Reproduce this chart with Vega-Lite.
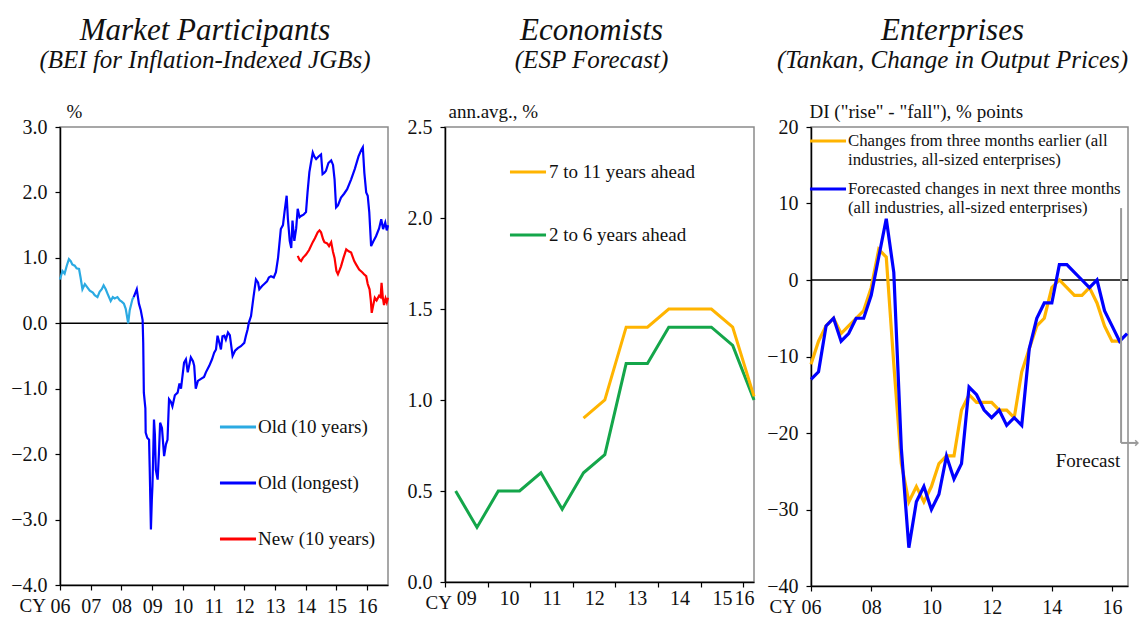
{
  "$schema": "https://vega.github.io/schema/vega-lite/v6.json",
  "background": "white",
  "padding": {"left": 9, "top": 14, "right": 0, "bottom": 0},
  "bounds": "flush",
  "spacing": 57,
  "resolve": {"scale": {"color": "independent"}, "legend": {"color": "independent"}},
  "config": {
    "font": "Liberation Serif",
    "view": {"stroke": "#8a8a8a", "strokeWidth": 1.5},
    "axis": {"domainColor": "#000", "domainWidth": 1.5, "tickColor": "#000", "tickSize": 5, "tickWidth": 1.2, "labelFont": "Liberation Serif", "labelFontSize": 20, "labelColor": "#111", "titleFont": "Liberation Serif", "titleFontSize": 19, "titleFontWeight": "normal", "titleColor": "#111", "grid": false, "labelFlush": false, "labelOverlap": false},
    "legend": {"labelFont": "Liberation Serif", "labelFontSize": 19, "labelColor": "#111", "symbolType": "stroke", "symbolStrokeWidth": 3, "symbolSize": 1300, "labelLimit": 400},
    "title": {"font": "Liberation Serif", "fontSize": 31, "fontStyle": "italic", "fontWeight": "normal", "color": "#111", "subtitleFont": "Liberation Serif", "subtitleFontSize": 25, "subtitleFontStyle": "italic", "subtitleColor": "#111", "anchor": "middle", "offset": 28, "subtitlePadding": 1}
  },
  "hconcat": [
    {
      "width": 328,
      "height": 458,
      "title": {"text": "Market Participants", "subtitle": "(BEI for Inflation-Indexed JGBs)", "dx": -19},
      "layer": [
        {
          "data": {"values": [{"z": 0}]},
          "mark": {"type": "rule", "color": "#000", "strokeWidth": 1.5},
          "encoding": {"y": {"field": "z", "type": "quantitative"}}
        },
        {
          "data": {"values": [
            {"s":"Old (10 years)","t":2006.00,"v":0.67},{"s":"Old (10 years)","t":2006.08,"v":0.80},{"s":"Old (10 years)","t":2006.15,"v":0.76},{"s":"Old (10 years)","t":2006.22,"v":0.88},{"s":"Old (10 years)","t":2006.29,"v":0.98},{"s":"Old (10 years)","t":2006.35,"v":0.95},{"s":"Old (10 years)","t":2006.40,"v":0.90},{"s":"Old (10 years)","t":2006.48,"v":0.88},{"s":"Old (10 years)","t":2006.54,"v":0.84},{"s":"Old (10 years)","t":2006.62,"v":0.83},{"s":"Old (10 years)","t":2006.67,"v":0.70},{"s":"Old (10 years)","t":2006.73,"v":0.52},{"s":"Old (10 years)","t":2006.81,"v":0.60},{"s":"Old (10 years)","t":2006.89,"v":0.55},{"s":"Old (10 years)","t":2006.97,"v":0.50},{"s":"Old (10 years)","t":2007.07,"v":0.47},{"s":"Old (10 years)","t":2007.13,"v":0.43},{"s":"Old (10 years)","t":2007.22,"v":0.40},{"s":"Old (10 years)","t":2007.29,"v":0.48},{"s":"Old (10 years)","t":2007.36,"v":0.52},{"s":"Old (10 years)","t":2007.42,"v":0.58},{"s":"Old (10 years)","t":2007.49,"v":0.52},{"s":"Old (10 years)","t":2007.55,"v":0.45},{"s":"Old (10 years)","t":2007.65,"v":0.34},{"s":"Old (10 years)","t":2007.72,"v":0.40},{"s":"Old (10 years)","t":2007.78,"v":0.38},{"s":"Old (10 years)","t":2007.87,"v":0.40},{"s":"Old (10 years)","t":2007.95,"v":0.35},{"s":"Old (10 years)","t":2008.01,"v":0.33},{"s":"Old (10 years)","t":2008.08,"v":0.30},{"s":"Old (10 years)","t":2008.14,"v":0.22},{"s":"Old (10 years)","t":2008.22,"v":0.00},{"s":"Old (10 years)","t":2008.27,"v":0.20},{"s":"Old (10 years)","t":2008.36,"v":0.37},{"s":"Old (10 years)","t":2008.40,"v":0.40},
            {"s":"Old (longest)","t":2008.40,"v":0.40},{"s":"Old (longest)","t":2008.50,"v":0.52},{"s":"Old (longest)","t":2008.57,"v":0.30},{"s":"Old (longest)","t":2008.63,"v":0.20},{"s":"Old (longest)","t":2008.69,"v":0.05},{"s":"Old (longest)","t":2008.71,"v":-0.30},{"s":"Old (longest)","t":2008.73,"v":-1.06},{"s":"Old (longest)","t":2008.78,"v":-1.30},{"s":"Old (longest)","t":2008.79,"v":-1.67},{"s":"Old (longest)","t":2008.84,"v":-1.75},{"s":"Old (longest)","t":2008.90,"v":-1.78},{"s":"Old (longest)","t":2008.92,"v":-2.20},{"s":"Old (longest)","t":2008.96,"v":-3.15},{"s":"Old (longest)","t":2008.99,"v":-2.70},{"s":"Old (longest)","t":2009.01,"v":-2.49},{"s":"Old (longest)","t":2009.04,"v":-1.90},{"s":"Old (longest)","t":2009.06,"v":-1.47},{"s":"Old (longest)","t":2009.09,"v":-1.70},{"s":"Old (longest)","t":2009.12,"v":-2.24},{"s":"Old (longest)","t":2009.18,"v":-2.39},{"s":"Old (longest)","t":2009.22,"v":-2.00},{"s":"Old (longest)","t":2009.26,"v":-1.52},{"s":"Old (longest)","t":2009.32,"v":-1.60},{"s":"Old (longest)","t":2009.39,"v":-2.03},{"s":"Old (longest)","t":2009.45,"v":-1.85},{"s":"Old (longest)","t":2009.50,"v":-1.78},{"s":"Old (longest)","t":2009.55,"v":-1.16},{"s":"Old (longest)","t":2009.61,"v":-1.20},{"s":"Old (longest)","t":2009.66,"v":-1.27},{"s":"Old (longest)","t":2009.74,"v":-1.10},{"s":"Old (longest)","t":2009.83,"v":-1.06},{"s":"Old (longest)","t":2009.89,"v":-0.92},{"s":"Old (longest)","t":2009.94,"v":-1.00},{"s":"Old (longest)","t":2010.04,"v":-0.60},{"s":"Old (longest)","t":2010.10,"v":-0.55},{"s":"Old (longest)","t":2010.16,"v":-0.75},{"s":"Old (longest)","t":2010.26,"v":-0.52},{"s":"Old (longest)","t":2010.33,"v":-0.58},{"s":"Old (longest)","t":2010.37,"v":-0.65},{"s":"Old (longest)","t":2010.42,"v":-1.00},{"s":"Old (longest)","t":2010.49,"v":-0.88},{"s":"Old (longest)","t":2010.59,"v":-0.85},{"s":"Old (longest)","t":2010.69,"v":-0.82},{"s":"Old (longest)","t":2010.75,"v":-0.75},{"s":"Old (longest)","t":2010.86,"v":-0.65},{"s":"Old (longest)","t":2010.95,"v":-0.55},{"s":"Old (longest)","t":2011.02,"v":-0.45},{"s":"Old (longest)","t":2011.08,"v":-0.40},{"s":"Old (longest)","t":2011.13,"v":-0.19},{"s":"Old (longest)","t":2011.19,"v":-0.30},{"s":"Old (longest)","t":2011.24,"v":-0.40},{"s":"Old (longest)","t":2011.29,"v":-0.20},{"s":"Old (longest)","t":2011.35,"v":-0.19},{"s":"Old (longest)","t":2011.40,"v":-0.25},{"s":"Old (longest)","t":2011.47,"v":-0.14},{"s":"Old (longest)","t":2011.53,"v":-0.18},{"s":"Old (longest)","t":2011.62,"v":-0.50},{"s":"Old (longest)","t":2011.70,"v":-0.42},{"s":"Old (longest)","t":2011.79,"v":-0.38},{"s":"Old (longest)","t":2011.89,"v":-0.35},{"s":"Old (longest)","t":2012.00,"v":-0.30},{"s":"Old (longest)","t":2012.05,"v":-0.20},{"s":"Old (longest)","t":2012.11,"v":-0.09},{"s":"Old (longest)","t":2012.15,"v":0.01},{"s":"Old (longest)","t":2012.22,"v":0.11},{"s":"Old (longest)","t":2012.30,"v":0.40},{"s":"Old (longest)","t":2012.38,"v":0.67},{"s":"Old (longest)","t":2012.45,"v":0.62},{"s":"Old (longest)","t":2012.49,"v":0.52},{"s":"Old (longest)","t":2012.58,"v":0.57},{"s":"Old (longest)","t":2012.65,"v":0.60},{"s":"Old (longest)","t":2012.74,"v":0.64},{"s":"Old (longest)","t":2012.80,"v":0.70},{"s":"Old (longest)","t":2012.87,"v":0.72},{"s":"Old (longest)","t":2012.96,"v":0.70},{"s":"Old (longest)","t":2013.03,"v":0.78},{"s":"Old (longest)","t":2013.10,"v":1.00},{"s":"Old (longest)","t":2013.19,"v":1.44},{"s":"Old (longest)","t":2013.26,"v":1.50},{"s":"Old (longest)","t":2013.31,"v":1.70},{"s":"Old (longest)","t":2013.38,"v":1.95},{"s":"Old (longest)","t":2013.42,"v":1.60},{"s":"Old (longest)","t":2013.48,"v":1.26},{"s":"Old (longest)","t":2013.53,"v":1.15},{"s":"Old (longest)","t":2013.57,"v":1.57},{"s":"Old (longest)","t":2013.63,"v":1.26},{"s":"Old (longest)","t":2013.69,"v":1.45},{"s":"Old (longest)","t":2013.74,"v":1.75},{"s":"Old (longest)","t":2013.80,"v":1.62},{"s":"Old (longest)","t":2013.85,"v":1.64},{"s":"Old (longest)","t":2013.93,"v":1.66},{"s":"Old (longest)","t":2014.01,"v":1.70},{"s":"Old (longest)","t":2014.06,"v":2.00},{"s":"Old (longest)","t":2014.12,"v":2.31},{"s":"Old (longest)","t":2014.17,"v":2.45},{"s":"Old (longest)","t":2014.23,"v":2.61},{"s":"Old (longest)","t":2014.28,"v":2.55},{"s":"Old (longest)","t":2014.34,"v":2.51},{"s":"Old (longest)","t":2014.42,"v":2.55},{"s":"Old (longest)","t":2014.50,"v":2.58},{"s":"Old (longest)","t":2014.55,"v":2.28},{"s":"Old (longest)","t":2014.61,"v":2.30},{"s":"Old (longest)","t":2014.66,"v":2.33},{"s":"Old (longest)","t":2014.74,"v":2.45},{"s":"Old (longest)","t":2014.83,"v":2.49},{"s":"Old (longest)","t":2014.89,"v":2.42},{"s":"Old (longest)","t":2014.94,"v":2.20},{"s":"Old (longest)","t":2014.99,"v":1.77},{"s":"Old (longest)","t":2015.05,"v":1.80},{"s":"Old (longest)","t":2015.15,"v":1.92},{"s":"Old (longest)","t":2015.25,"v":1.98},{"s":"Old (longest)","t":2015.35,"v":2.05},{"s":"Old (longest)","t":2015.48,"v":2.20},{"s":"Old (longest)","t":2015.60,"v":2.36},{"s":"Old (longest)","t":2015.72,"v":2.55},{"s":"Old (longest)","t":2015.81,"v":2.65},{"s":"Old (longest)","t":2015.86,"v":2.69},{"s":"Old (longest)","t":2015.91,"v":2.30},{"s":"Old (longest)","t":2015.97,"v":2.00},{"s":"Old (longest)","t":2016.02,"v":1.95},{"s":"Old (longest)","t":2016.07,"v":1.70},{"s":"Old (longest)","t":2016.13,"v":1.18},{"s":"Old (longest)","t":2016.20,"v":1.25},{"s":"Old (longest)","t":2016.29,"v":1.33},{"s":"Old (longest)","t":2016.39,"v":1.45},{"s":"Old (longest)","t":2016.46,"v":1.59},{"s":"Old (longest)","t":2016.52,"v":1.44},{"s":"Old (longest)","t":2016.59,"v":1.54},{"s":"Old (longest)","t":2016.64,"v":1.42},{"s":"Old (longest)","t":2016.68,"v":1.50},
            {"s":"New (10 years)","t":2013.74,"v":1.03},{"s":"New (10 years)","t":2013.80,"v":0.97},{"s":"New (10 years)","t":2013.85,"v":0.95},{"s":"New (10 years)","t":2013.91,"v":1.00},{"s":"New (10 years)","t":2014.01,"v":1.05},{"s":"New (10 years)","t":2014.11,"v":1.12},{"s":"New (10 years)","t":2014.23,"v":1.24},{"s":"New (10 years)","t":2014.30,"v":1.30},{"s":"New (10 years)","t":2014.39,"v":1.39},{"s":"New (10 years)","t":2014.45,"v":1.42},{"s":"New (10 years)","t":2014.50,"v":1.39},{"s":"New (10 years)","t":2014.57,"v":1.28},{"s":"New (10 years)","t":2014.61,"v":1.24},{"s":"New (10 years)","t":2014.70,"v":1.22},{"s":"New (10 years)","t":2014.76,"v":1.18},{"s":"New (10 years)","t":2014.83,"v":1.24},{"s":"New (10 years)","t":2014.89,"v":1.09},{"s":"New (10 years)","t":2014.94,"v":1.00},{"s":"New (10 years)","t":2015.00,"v":0.80},{"s":"New (10 years)","t":2015.05,"v":0.75},{"s":"New (10 years)","t":2015.11,"v":0.82},{"s":"New (10 years)","t":2015.15,"v":0.87},{"s":"New (10 years)","t":2015.23,"v":1.00},{"s":"New (10 years)","t":2015.32,"v":1.13},{"s":"New (10 years)","t":2015.40,"v":1.10},{"s":"New (10 years)","t":2015.48,"v":1.08},{"s":"New (10 years)","t":2015.58,"v":0.95},{"s":"New (10 years)","t":2015.64,"v":0.90},{"s":"New (10 years)","t":2015.74,"v":0.82},{"s":"New (10 years)","t":2015.84,"v":0.78},{"s":"New (10 years)","t":2015.90,"v":0.75},{"s":"New (10 years)","t":2015.97,"v":0.72},{"s":"New (10 years)","t":2016.02,"v":0.60},{"s":"New (10 years)","t":2016.08,"v":0.52},{"s":"New (10 years)","t":2016.12,"v":0.35},{"s":"New (10 years)","t":2016.15,"v":0.16},{"s":"New (10 years)","t":2016.20,"v":0.28},{"s":"New (10 years)","t":2016.25,"v":0.39},{"s":"New (10 years)","t":2016.31,"v":0.35},{"s":"New (10 years)","t":2016.39,"v":0.42},{"s":"New (10 years)","t":2016.44,"v":0.40},{"s":"New (10 years)","t":2016.47,"v":0.62},{"s":"New (10 years)","t":2016.51,"v":0.40},{"s":"New (10 years)","t":2016.55,"v":0.28},{"s":"New (10 years)","t":2016.60,"v":0.38},{"s":"New (10 years)","t":2016.64,"v":0.32},{"s":"New (10 years)","t":2016.68,"v":0.39}
          ]},
          "mark": {"type": "line", "strokeWidth": 2.2},
          "encoding": {
            "x": {"field": "t", "type": "quantitative", "scale": {"domain": [2006, 2016.68], "nice": false, "zero": false},
              "axis": {"values": [2006,2007,2008,2009,2010,2011,2012,2013,2014,2015,2016], "labelExpr": "substring(toString(datum.value),2,4)", "labelPadding": 6, "title": "CY", "titleAngle": 0, "titleAlign": "left", "titleBaseline": "top", "titleX": -41, "titleY": 11}},
            "y": {"field": "v", "type": "quantitative", "scale": {"domain": [-4, 3], "nice": false},
              "axis": {"values": [-4,-3,-2,-1,0,1,2,3], "format": ".1f", "labelPadding": 8, "title": "%", "titleAngle": 0, "titleAlign": "left", "titleBaseline": "alphabetic", "titleX": 6, "titleY": -10}},
            "color": {"field": "s", "type": "nominal", "scale": {"domain": ["Old (10 years)", "Old (longest)", "New (10 years)"], "range": ["#2BAAE2", "#0000FF", "#FF0000"]},
              "legend": {"title": null, "orient": "none", "legendX": 158, "legendY": 280, "rowPadding": 26, "labelOffset": 0}}
          }
        }
      ]
    },
    {
      "width": 309,
      "height": 455,
      "title": {"text": "Economists", "subtitle": "(ESP Forecast)", "dx": -8},
      "data": {"values": [
        {"s":"2 to 6 years ahead","t":2009.25,"v":0.5},{"s":"2 to 6 years ahead","t":2009.75,"v":0.3},{"s":"2 to 6 years ahead","t":2010.25,"v":0.5},{"s":"2 to 6 years ahead","t":2010.75,"v":0.5},{"s":"2 to 6 years ahead","t":2011.25,"v":0.6},{"s":"2 to 6 years ahead","t":2011.75,"v":0.4},{"s":"2 to 6 years ahead","t":2012.25,"v":0.6},{"s":"2 to 6 years ahead","t":2012.75,"v":0.7},{"s":"2 to 6 years ahead","t":2013.25,"v":1.2},{"s":"2 to 6 years ahead","t":2013.75,"v":1.2},{"s":"2 to 6 years ahead","t":2014.25,"v":1.4},{"s":"2 to 6 years ahead","t":2014.75,"v":1.4},{"s":"2 to 6 years ahead","t":2015.25,"v":1.4},{"s":"2 to 6 years ahead","t":2015.75,"v":1.3},{"s":"2 to 6 years ahead","t":2016.25,"v":1.0},
        {"s":"7 to 11 years ahead","t":2012.25,"v":0.9},{"s":"7 to 11 years ahead","t":2012.75,"v":1.0},{"s":"7 to 11 years ahead","t":2013.25,"v":1.4},{"s":"7 to 11 years ahead","t":2013.75,"v":1.4},{"s":"7 to 11 years ahead","t":2014.25,"v":1.5},{"s":"7 to 11 years ahead","t":2014.75,"v":1.5},{"s":"7 to 11 years ahead","t":2015.25,"v":1.5},{"s":"7 to 11 years ahead","t":2015.75,"v":1.4},{"s":"7 to 11 years ahead","t":2016.25,"v":1.02}
      ]},
      "resolve": {"axis": {"x": "independent"}},
      "layer": [
        {
          "mark": {"type": "line", "strokeWidth": 3},
          "encoding": {
            "x": {"field": "t", "type": "quantitative", "scale": {"domain": [2009, 2016.25], "nice": false, "zero": false},
              "axis": {"orient": "bottom", "values": [2009,2010,2011,2012,2013,2014,2015,2016], "labels": false, "title": null}},
            "y": {"field": "v", "type": "quantitative", "scale": {"domain": [0, 2.5], "nice": false},
              "axis": {"values": [0,0.5,1,1.5,2,2.5], "format": ".1f", "labelPadding": 8, "title": "ann.avg., %", "titleAngle": 0, "titleAlign": "left", "titleBaseline": "alphabetic", "titleX": 3, "titleY": -10}},
            "color": {"field": "s", "type": "nominal", "scale": {"domain": ["7 to 11 years ahead", "2 to 6 years ahead"], "range": ["#FFB400", "#14A64A"]},
              "legend": {"title": null, "orient": "none", "legendX": 63, "legendY": 25, "rowPadding": 33, "labelOffset": 1}}
          }
        },
        {
          "mark": {"type": "point", "opacity": 0},
          "encoding": {
            "x": {"field": "t", "type": "quantitative",
              "axis": {"orient": "bottom", "values": [2009.5,2010.5,2011.5,2012.5,2013.5,2014.5,2015.5,2016.25], "labelExpr": "datum.value > 2016 ? '16' : substring(toString(floor(datum.value)),2,4)", "labelFlush": true, "ticks": false, "domain": false, "labelPadding": 6, "title": "CY", "titleAngle": 0, "titleAlign": "left", "titleBaseline": "top", "titleX": -20, "titleY": 11}}
          }
        }
      ]
    },
    {
      "width": 317,
      "height": 459,
      "title": {"text": "Enterprises", "subtitle": "(Tankan, Change in Output Prices)", "dx": -17},
      "layer": [
        {
          "data": {"values": [{"z": 0}]},
          "mark": {"type": "rule", "color": "#000", "strokeWidth": 1.5},
          "encoding": {"y": {"field": "z", "type": "quantitative"}}
        },
        {
          "data": {"values": [
            {"s":"A","t":2006.00,"v":-11},{"s":"A","t":2006.25,"v":-8},{"s":"A","t":2006.50,"v":-6},{"s":"A","t":2006.75,"v":-5},{"s":"A","t":2007.00,"v":-7},{"s":"A","t":2007.25,"v":-6},{"s":"A","t":2007.50,"v":-5},{"s":"A","t":2007.75,"v":-4},{"s":"A","t":2008.00,"v":-1},{"s":"A","t":2008.25,"v":4},{"s":"A","t":2008.50,"v":3},{"s":"A","t":2008.75,"v":-11},{"s":"A","t":2009.00,"v":-24},{"s":"A","t":2009.25,"v":-29},{"s":"A","t":2009.50,"v":-27},{"s":"A","t":2009.75,"v":-29},{"s":"A","t":2010.00,"v":-27},{"s":"A","t":2010.25,"v":-24},{"s":"A","t":2010.50,"v":-23},{"s":"A","t":2010.75,"v":-23},{"s":"A","t":2011.00,"v":-17},{"s":"A","t":2011.25,"v":-15},{"s":"A","t":2011.50,"v":-16},{"s":"A","t":2011.75,"v":-16},{"s":"A","t":2012.00,"v":-16},{"s":"A","t":2012.25,"v":-17},{"s":"A","t":2012.50,"v":-17},{"s":"A","t":2012.75,"v":-18},{"s":"A","t":2013.00,"v":-12},{"s":"A","t":2013.25,"v":-9},{"s":"A","t":2013.50,"v":-6},{"s":"A","t":2013.75,"v":-5},{"s":"A","t":2014.00,"v":-1},{"s":"A","t":2014.25,"v":0},{"s":"A","t":2014.50,"v":-1},{"s":"A","t":2014.75,"v":-2},{"s":"A","t":2015.00,"v":-2},{"s":"A","t":2015.25,"v":-1},{"s":"A","t":2015.50,"v":-3},{"s":"A","t":2015.75,"v":-6},{"s":"A","t":2016.00,"v":-8},{"s":"A","t":2016.25,"v":-8},
            {"s":"B","t":2006.00,"v":-13},{"s":"B","t":2006.25,"v":-12},{"s":"B","t":2006.50,"v":-6},{"s":"B","t":2006.75,"v":-5},{"s":"B","t":2007.00,"v":-8},{"s":"B","t":2007.25,"v":-7},{"s":"B","t":2007.50,"v":-5},{"s":"B","t":2007.75,"v":-5},{"s":"B","t":2008.00,"v":-2},{"s":"B","t":2008.25,"v":3},{"s":"B","t":2008.50,"v":8},{"s":"B","t":2008.75,"v":1},{"s":"B","t":2009.00,"v":-22},{"s":"B","t":2009.25,"v":-35},{"s":"B","t":2009.50,"v":-29},{"s":"B","t":2009.75,"v":-27},{"s":"B","t":2010.00,"v":-30},{"s":"B","t":2010.25,"v":-28},{"s":"B","t":2010.50,"v":-23},{"s":"B","t":2010.75,"v":-26},{"s":"B","t":2011.00,"v":-24},{"s":"B","t":2011.25,"v":-14},{"s":"B","t":2011.50,"v":-15},{"s":"B","t":2011.75,"v":-17},{"s":"B","t":2012.00,"v":-18},{"s":"B","t":2012.25,"v":-17},{"s":"B","t":2012.50,"v":-19},{"s":"B","t":2012.75,"v":-18},{"s":"B","t":2013.00,"v":-19},{"s":"B","t":2013.25,"v":-9},{"s":"B","t":2013.50,"v":-5},{"s":"B","t":2013.75,"v":-3},{"s":"B","t":2014.00,"v":-3},{"s":"B","t":2014.25,"v":2},{"s":"B","t":2014.50,"v":2},{"s":"B","t":2014.75,"v":1},{"s":"B","t":2015.00,"v":0},{"s":"B","t":2015.25,"v":-1},{"s":"B","t":2015.50,"v":0},{"s":"B","t":2015.75,"v":-4},{"s":"B","t":2016.00,"v":-6},{"s":"B","t":2016.25,"v":-8},{"s":"B","t":2016.50,"v":-7}
          ]},
          "mark": {"type": "line", "strokeWidth": 3.2},
          "encoding": {
            "x": {"field": "t", "type": "quantitative", "scale": {"domain": [2006, 2016.53], "nice": false, "zero": false},
              "axis": {"values": [2006,2007,2008,2009,2010,2011,2012,2013,2014,2015,2016], "labelExpr": "substring(toString(datum.value),2,4)", "labelPadding": 6, "title": "CY", "titleAngle": 0, "titleAlign": "left", "titleBaseline": "top", "titleX": -42, "titleY": 11}},
            "y": {"field": "v", "type": "quantitative", "scale": {"domain": [-40, 20], "nice": false},
              "axis": {"values": [-40,-30,-20,-10,0,10,20], "labelPadding": 8, "title": "DI (\"rise\" - \"fall\"), % points", "titleAngle": 0, "titleAlign": "left", "titleBaseline": "alphabetic", "titleX": -2, "titleY": -10}},
            "color": {"field": "s", "type": "nominal", "scale": {"domain": ["A", "B"], "range": ["#FFB400", "#0000FF"]},
              "legend": {"title": null, "orient": "none", "legendX": -3, "legendY": -6, "rowPadding": -4, "labelOffset": 0, "labelFontSize": 16.8,
                "labelExpr": "datum.label == 'A' ? ['Changes from three months earlier (all', 'industries, all-sized enterprises)'] : ['Forecasted changes in next three months', '(all industries, all-sized enterprises)']"}}
          }
        },
        {
          "data": {"values": [
            {"x": 2016.3, "x2": 2016.3, "y": 9.4, "y2": -21.3},
            {"x": 2016.3, "x2": 2016.84, "y": -21.3, "y2": -21.3}
          ]},
          "mark": {"type": "rule", "color": "#999999", "strokeWidth": 2},
          "encoding": {
            "x": {"field": "x", "type": "quantitative"},
            "x2": {"field": "x2"},
            "y": {"field": "y", "type": "quantitative"},
            "y2": {"field": "y2"}
          }
        },
        {
          "data": {"values": [{"x": 2016.86, "y": -21.3}]},
          "mark": {"type": "point", "shape": "M-1,-1L0,0L-1,1", "filled": false, "stroke": "#999999", "strokeWidth": 1.5, "size": 30, "opacity": 1},
          "encoding": {
            "x": {"field": "x", "type": "quantitative"},
            "y": {"field": "y", "type": "quantitative"}
          }
        },
        {
          "data": {"values": [{"x": 2016.27, "y": -23.6, "label": "Forecast"}]},
          "mark": {"type": "text", "align": "right", "baseline": "middle", "font": "Liberation Serif", "fontSize": 19, "color": "#111"},
          "encoding": {
            "x": {"field": "x", "type": "quantitative"},
            "y": {"field": "y", "type": "quantitative"},
            "text": {"field": "label"}
          }
        }
      ]
    }
  ]
}
